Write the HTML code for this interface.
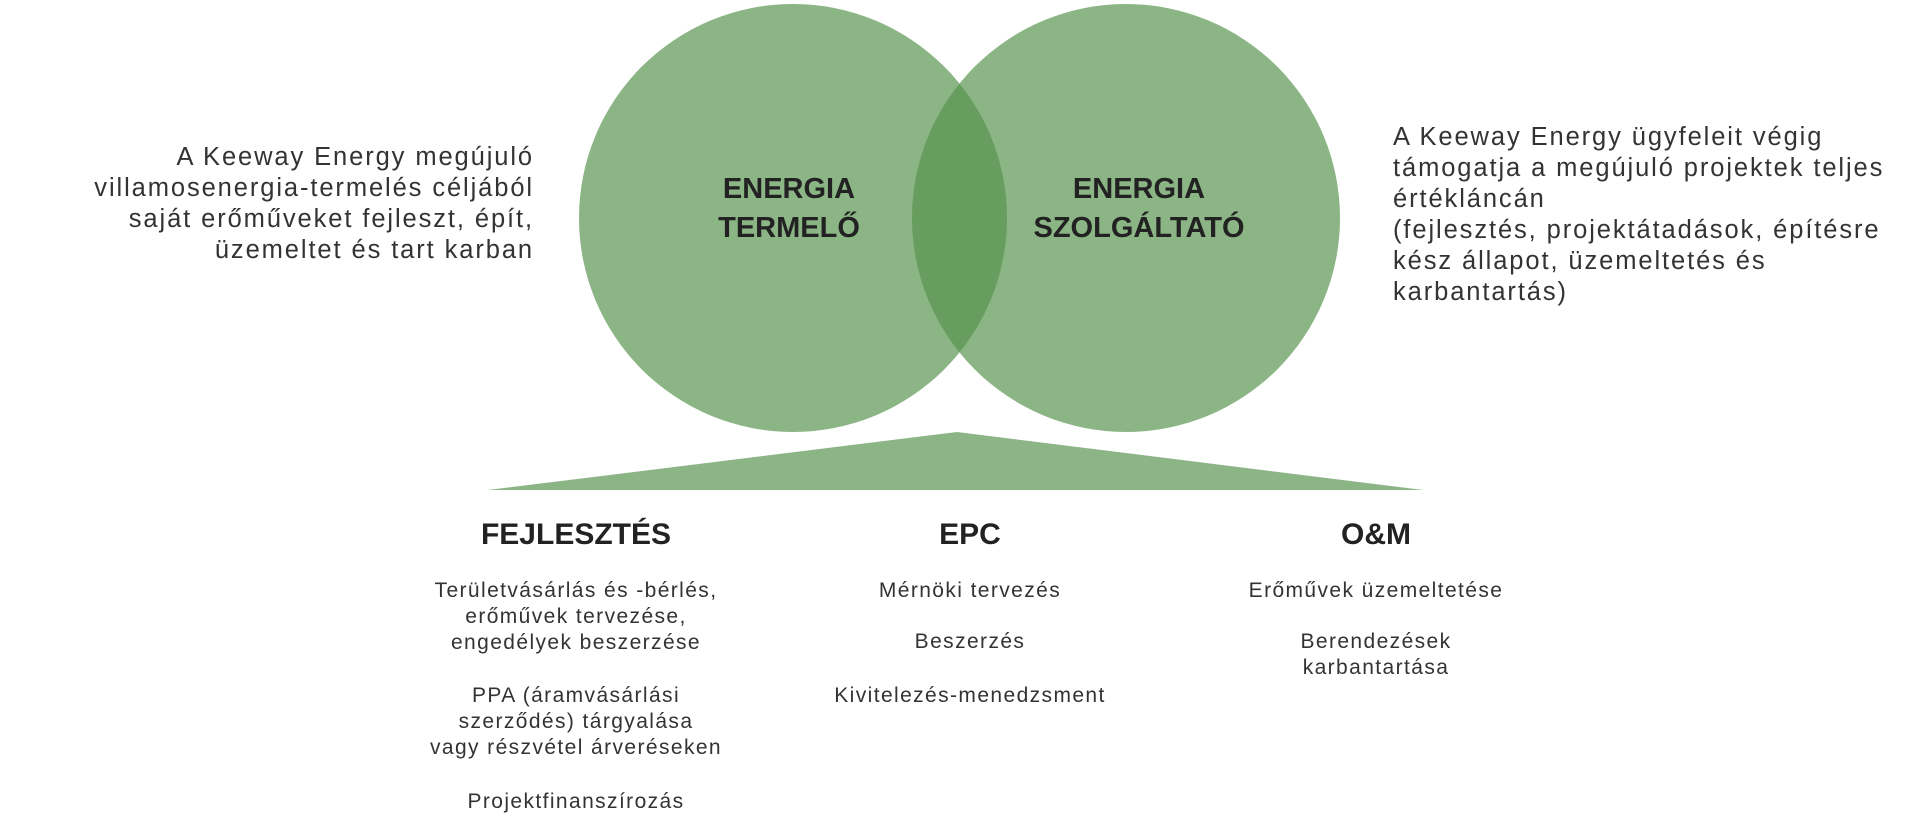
<!DOCTYPE html>
<html><head><meta charset="utf-8"><style>
html,body{margin:0;padding:0;background:#fff;}
body{width:1915px;height:840px;position:relative;overflow:hidden;font-family:"Liberation Sans",sans-serif;color:#2a2a2a;}
.t{position:absolute;white-space:nowrap;font-size:25.5px;line-height:31px;letter-spacing:1.9px;color:#333;}
.c{position:absolute;white-space:nowrap;text-align:center;transform:translateX(-50%);font-size:21px;line-height:26px;letter-spacing:1.4px;color:#333;}
.h{position:absolute;white-space:nowrap;transform:translateX(-50%);font-weight:bold;font-size:30px;color:#222;}
.lbl{position:absolute;transform:translateX(-50%);text-align:center;font-weight:bold;font-size:29px;line-height:39px;color:#222;}
</style></head><body>
<svg width="1915" height="840" style="position:absolute;left:0;top:0">
<defs><clipPath id="cl"><circle cx="793" cy="218" r="214"/></clipPath></defs>
<circle cx="793" cy="218" r="214" fill="#8bb584"/>
<circle cx="1126" cy="218" r="214" fill="#8bb584"/>
<circle cx="1126" cy="218" r="214" fill="#679d5e" clip-path="url(#cl)"/>
<polygon points="957,432 1423,490 488,490" fill="#8bb584"/>
</svg>
<div class="t" style="right:1381px;top:142px;text-align:right">A Keeway Energy megújuló<br>villamosenergia-termelés céljából<br>saját erőműveket fejleszt, épít,<br>üzemeltet és tart karban</div>
<div class="t" style="left:1393px;top:122px;">A Keeway Energy ügyfeleit végig<br>támogatja a megújuló projektek teljes<br>értékláncán<br>(fejlesztés, projektátadások, építésre<br>kész állapot, üzemeltetés és<br>karbantartás)</div>
<div class="lbl" style="left:789px;top:170px">ENERGIA<br>TERMELŐ</div>
<div class="lbl" style="left:1139px;top:170px">ENERGIA<br>SZOLGÁLTATÓ</div>
<div class="h" style="left:576px;top:518px">FEJLESZTÉS</div>
<div class="h" style="left:970px;top:518px">EPC</div>
<div class="h" style="left:1376px;top:518px">O&amp;M</div>
<div class="c" style="left:576px;top:578px">Területvásárlás és -bérlés,<br>erőművek tervezése,<br>engedélyek beszerzése</div>
<div class="c" style="left:576px;top:683px">PPA (áramvásárlási<br>szerződés) tárgyalása<br>vagy részvétel árveréseken</div>
<div class="c" style="left:576px;top:789px">Projektfinanszírozás</div>
<div class="c" style="left:970px;top:578px">Mérnöki tervezés</div>
<div class="c" style="left:970px;top:629px">Beszerzés</div>
<div class="c" style="left:970px;top:683px">Kivitelezés-menedzsment</div>
<div class="c" style="left:1376px;top:578px">Erőművek üzemeltetése</div>
<div class="c" style="left:1376px;top:629px">Berendezések<br>karbantartása</div>
</body></html>
